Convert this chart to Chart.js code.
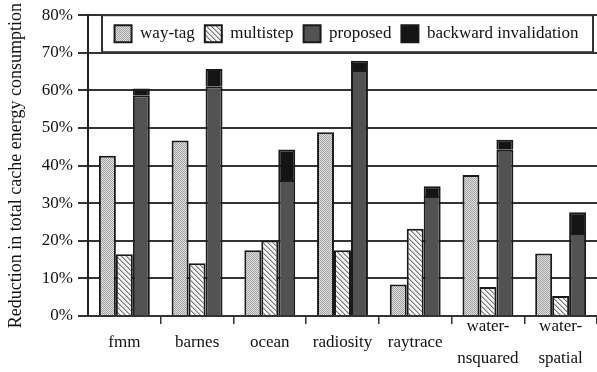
<!DOCTYPE html>
<html><head><meta charset="utf-8">
<script src="https://cdn.jsdelivr.net/npm/chart.js@4.4.0/dist/chart.umd.min.js"></script>
<style>html,body{margin:0;padding:0;background:#fff;}canvas{display:block;}</style>
</head><body>
<canvas id="c" width="597" height="372"></canvas>
<script>
const categories = ['fmm', 'barnes', 'ocean', 'radiosity', 'raytrace', ['water-', 'nsquared'], ['water-', 'spatial']];
const seriesNames = ['way-tag', 'multistep', 'proposed', 'backward invalidation'];
const wayTag = [42.6, 46.7, 17.5, 48.9, 8.4, 37.5, 16.6];
const multistep = [16.4, 14.0, 20.1, 17.5, 23.2, 7.7, 5.3];
const proposed = [58.7, 61.1, 36.2, 65.4, 31.9, 44.2, 22.1];
const backwardInvalidation = [1.8, 4.6, 8.1, 2.5, 2.6, 2.7, 5.5];
const yTickLabels = ['0%', '10%', '20%', '30%', '40%', '50%', '60%', '70%', '80%'];
const yTitle = 'Reduction in total cache energy consumption';

const FONT = "'Liberation Serif', 'Times New Roman', serif";
Chart.defaults.font.family = FONT;
Chart.defaults.color = '#111';

function makePattern(w, h, painter) {
  const t = document.createElement('canvas');
  t.width = w; t.height = h;
  const g = t.getContext('2d');
  painter(g);
  return document.getElementById('c').getContext('2d').createPattern(t, 'repeat');
}
const patWay = makePattern(2, 2, g => {
  g.fillStyle = '#e2e2e2'; g.fillRect(0, 0, 2, 2);
  g.fillStyle = '#a0a0a0'; g.fillRect(0, 0, 1, 1); g.fillRect(1, 1, 1, 1);
});
const patMulti = makePattern(5, 5, g => {
  g.fillStyle = '#f4f4f4'; g.fillRect(0, 0, 5, 5);
  for (let i = 0; i < 5; i++) {
    g.fillStyle = '#767676'; g.fillRect(i, i, 1, 1);
    g.fillStyle = '#bdbdbd'; g.fillRect((i + 1) % 5, i, 1, 1);
  }
});

const legendInside = {
  id: 'legendInside',
  afterLayout(chart) {
    const lg = chart.legend, ca = chart.chartArea;
    const h = lg.height;
    lg.top = ca.top; lg.bottom = ca.top + h;
    lg.left = ca.left + 8; lg.right = ca.right;
  },
  afterDraw(chart) {
    const lg = chart.legend, ca = chart.chartArea, ctx = chart.ctx;
    ctx.save();
    ctx.strokeStyle = '#333'; ctx.lineWidth = 2;
    const l = ca.left + 14, r = ca.right - 4;
    ctx.strokeRect(l, lg.top, r - l, lg.bottom - lg.top);
    ctx.restore();
  }
};

const common = { borderColor: '#1a1a1a', borderWidth: 2, categoryPercentage: 0.7, barPercentage: 1 };

new Chart(document.getElementById('c'), {
  type: 'bar',
  data: {
    labels: categories,
    datasets: [
      Object.assign({ label: seriesNames[0], data: wayTag, backgroundColor: patWay, stack: 's1' }, common),
      Object.assign({ label: seriesNames[1], data: multistep, backgroundColor: patMulti, stack: 's2' }, common),
      Object.assign({ label: seriesNames[2], data: proposed, backgroundColor: '#525252', stack: 's3' }, common),
      Object.assign({ label: seriesNames[3], data: backwardInvalidation, backgroundColor: '#141414', stack: 's3' }, common)
    ]
  },
  options: {
    responsive: false, animation: false, devicePixelRatio: 1,
    layout: { padding: { top: -27, left: 0, right: 0, bottom: 0 } },
    plugins: {
      legend: {
        display: true, position: 'top', align: 'center',
        labels: { boxWidth: 17, boxHeight: 17, padding: 10, color: '#111', font: { size: 17, family: FONT } }
      },
      tooltip: { enabled: false }
    },
    scales: {
      x: {
        stacked: true, offset: true,
        grid: {
          display: true, drawOnChartArea: false, drawTicks: true, tickLength: 8, lineWidth: 1.5, offset: true,
          color: c => (c.index === 0 ? 'rgba(0,0,0,0)' : '#333')
        },
        border: { display: true, color: '#333', width: 2 },
        ticks: { color: '#111', font: { size: 17, lineHeight: 1.85 }, padding: 3, maxRotation: 0, autoSkip: false, crossAlign: 'center' },
        afterFit: s => { s.height = 56; }
      },
      y: {
        stacked: true, min: 0, max: 80,
        ticks: { stepSize: 10, padding: 5, color: '#111', font: { size: 17 }, callback: v => yTickLabels[Math.round(v / 10)] },
        grid: { color: '#333', lineWidth: 2, tickLength: 10, drawTicks: true },
        border: { display: true, color: '#222', width: 2 },
        title: { display: true, text: yTitle, color: '#111', font: { size: 18 }, padding: { top: 5, bottom: 0 } },
        afterFit: s => { s.width = 88; }
      }
    }
  },
  plugins: [legendInside]
});
</script>
</body></html>
